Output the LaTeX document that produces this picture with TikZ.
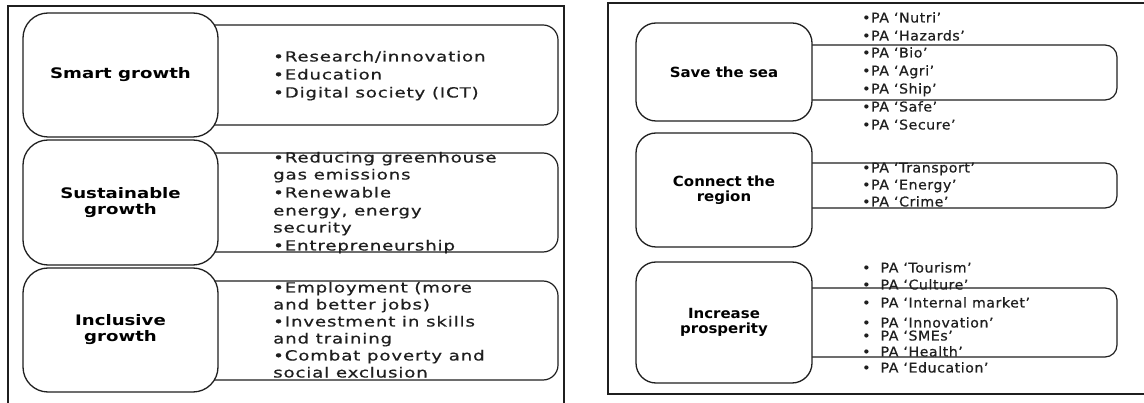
\documentclass[tikz,border=0pt]{standalone}
\usepackage{fontspec}
\setmainfont{DejaVu Sans}
% wide, tracked faces for the two panels
\newfontfamily\lheadfont{DejaVu Sans}[FakeStretch=1.25]
\newfontfamily\llistfont{DejaVu Sans}[FakeStretch=1.3,LetterSpace=6,FakeBold=0.6]
\newfontfamily\rheadfont{DejaVu Sans}[FakeStretch=1.07]
\newfontfamily\rlistfont{DejaVu Sans}[FakeStretch=1.05,LetterSpace=4,FakeBold=0.6]
\definecolor{ink}{gray}{0.12}
\tikzset{
  frame/.style={draw=ink, line width=1.2pt},
  lround/.style={draw=ink, fill=white, line width=1.3pt, rounded corners=25pt,
    minimum width=195pt, align=center, inner sep=0pt,
    font=\lheadfont\bfseries\fontsize{14.5}{16}\selectfont},
  rround/.style={draw=ink, fill=white, line width=1.3pt, rounded corners=20pt,
    minimum width=176pt, align=center, inner sep=0pt,
    font=\rheadfont\bfseries\fontsize{14}{15.5}\selectfont},
  lrect/.style={draw=ink, fill=white, line width=1.2pt, rounded corners=15pt,
    minimum width=438pt, inner sep=0pt},
  rrect/.style={draw=ink, fill=white, line width=1.2pt, rounded corners=12pt,
    minimum width=393pt, inner sep=0pt},
  litem/.style={anchor=base west, inner sep=0pt, text=ink,
    font=\llistfont\fontsize{14}{15}\selectfont},
  ritem/.style={anchor=base west, inner sep=0pt, text=ink,
    font=\rlistfont\fontsize{13.5}{15}\selectfont},
}
\begin{document}
\begin{tikzpicture}[x=1pt, y=-1pt]
\useasboundingbox (0,0) rectangle (1144,403);

% ---------- left panel: Europe 2020 growth priorities ----------
\draw[frame] (8,406) -- (8,6) -- (564,6) -- (564,406);

\node[lrect, minimum height=100pt] (smartlist) at (339,75) {};
\node[lrect, minimum height=99pt]  (sustlist)  at (339,202.5) {};
\node[lrect, minimum height=99pt]  (inclist)   at (339,330.5) {};

\node[lround, minimum height=124pt] (smart) at (120.5,75) {Smart growth};
\node[lround, minimum height=125pt] (sust)  at (120.5,202.5) {Sustainable\\growth};
\node[lround, minimum height=124pt] (incl)  at (120.5,330) {Inclusive\\growth};

\foreach \t/\y [count=\i] in {{•Research/innovation}/57, {•Education}/75,
    {•Digital society (ICT)}/93}
  \node[litem] (smartitem\i) at (273,\y+4.5) {\t};

\foreach \t/\y [count=\i] in {{•Reducing greenhouse}/158, {gas emissions}/175,
    {•Renewable}/193, {energy, energy}/211, {security}/228,
    {•Entrepreneurship}/246}
  \node[litem] (sustitem\i) at (273,\y+4.5) {\t};

\foreach \t/\y [count=\i] in {{•Employment (more}/288, {and better jobs)}/305,
    {•Investment in skills}/322, {and training}/339,
    {•Combat poverty and}/356, {social exclusion}/373}
  \node[litem] (incitem\i) at (273,\y+4.5) {\t};

% ---------- right panel: strategy objectives ----------
\draw[frame] (1150,394) -- (608,394) -- (608,3) -- (1150,3);

\node[rrect, minimum height=55pt] (sealist)  at (920.5,72.5) {};
\node[rrect, minimum height=45pt] (conlist)  at (920.5,185.5) {};
\node[rrect, minimum height=69pt] (proslist) at (920.5,322.5) {};

\node[rround, minimum height=98pt]  (sea)  at (724,72) {Save the sea};
\node[rround, minimum height=114pt] (con)  at (724,190) {Connect the\\region};
\node[rround, minimum height=121pt] (pros) at (724,322.5) {Increase\\prosperity};

\foreach \t/\y [count=\i] in {{Nutri}/18, {Hazards}/36, {Bio}/53, {Agri}/71,
    {Ship}/89, {Safe}/107, {Secure}/125}
  \node[ritem] (seaitem\i) at (862,\y+4.5) {•PA ‘\t’};

\foreach \t/\y [count=\i] in {{Transport}/168, {Energy}/185, {Crime}/202}
  \node[ritem] (conitem\i) at (862,\y+4.5) {•PA ‘\t’};

\foreach \t/\y [count=\i] in {{Tourism}/268, {Culture}/285,
    {Internal market}/303, {Innovation}/323, {SMEs}/336, {Health}/352,
    {Education}/368}
  \node[ritem] (prositem\i) at (862,\y+4.5) {•\hspace{10pt}PA ‘\t’};
\end{tikzpicture}
\end{document}
